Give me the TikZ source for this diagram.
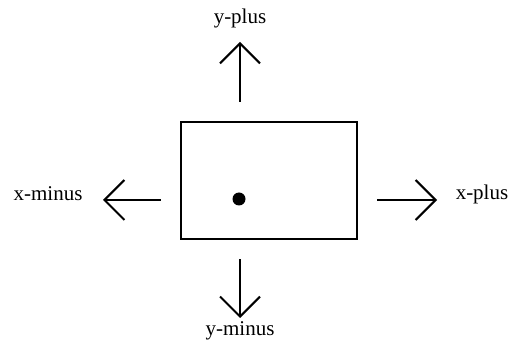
\documentclass[tikz,border=0pt]{standalone}
\usepackage{fontspec}
\setmainfont{Liberation Serif}
\usetikzlibrary{arrows.meta}

\begin{document}
\begin{tikzpicture}[x=0.5pt, y=-0.5pt, >={Straight Barb[length=10pt,width=20pt]},
        arr/.style={->, line width=1pt, shorten <=9.5pt},
        lbl/.style={font=\fontsize{10.5}{12}\selectfont, inner sep=0pt}]
        \useasboundingbox (0,0) rectangle (509,347);
        \node[draw, line width=1.1pt, minimum width=88pt, minimum height=58.5pt] (box) at (269,180.5) {};
        \node[circle, fill, inner sep=0pt, minimum size=6.5pt] (dot) at (239,199) {};
        \node[lbl] (yplus) at (240,18) {y-plus};
        \node[lbl] (yminus) at (240,331) {y-minus};
        \node[lbl] (xminus) at (48,194) {x-minus};
        \node[lbl] (xplus) at (482,194) {x-plus};
        \coordinate (uptip) at (240,42);
        \coordinate (downtip) at (240,318);
        \coordinate (lefttip) at (103,200);
        \coordinate (righttip) at (437,200);
        \draw[arr] (box.north -| uptip) -- (uptip);
        \draw[arr] (box.south -| downtip) -- (downtip);
        \draw[arr] (box.west |- lefttip) -- (lefttip);
        \draw[arr] (box.east |- righttip) -- (righttip);
    \end{tikzpicture}
\end{document}
